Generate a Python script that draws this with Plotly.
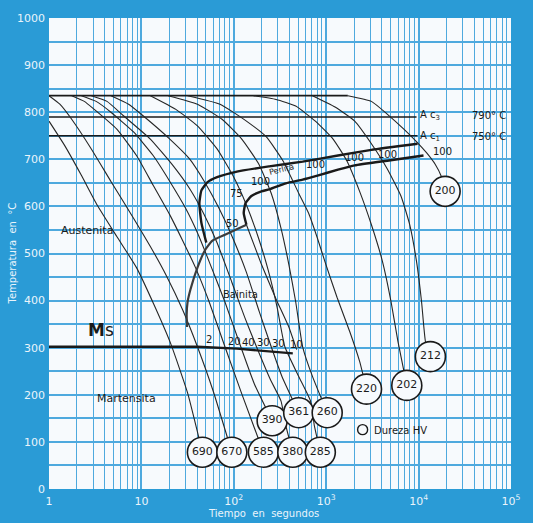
import numpy as np
import plotly.graph_objects as go

# ---- Diagrama TEC: curvas de enfriamiento (tiempo en s, temperatura en °C) ----
T_AUST = 835          # temperatura de austenización
AC3 = 790
AC1 = 750

t_690 = [1, 1.48, 2.24, 3.32, 5.42, 8.85, 13.7, 20.9, 31.6, 45.7]
T_690 = [781, 729, 666, 603, 536, 470, 391, 307, 204, 78]
t_670 = [1, 1.31, 1.76, 2.87, 4.68, 8.22, 12.5, 18.4, 28.0, 40.4, 59.8, 95.2]
T_670 = [835, 817, 785, 722, 653, 575, 515, 455, 380, 302, 208, 78]
t_585 = [1.76, 2.41, 3.09, 5.42, 8.85, 13.4, 20.3, 28.0, 38.5, 54.2, 80.2, 122, 209]
T_585 = [835, 823, 806, 764, 708, 645, 582, 527, 470, 397, 302, 202, 78]
t_390 = [2.24, 3.24, 4.68, 8.22, 13.4, 20.3, 30.1, 40.4, 55.6, 80.2, 119, 167, 260]
T_390 = [835, 823, 800, 758, 708, 653, 596, 544, 477, 397, 302, 223, 145]
t_380 = [2.87, 4.24, 6.44, 12.5, 21.9, 33.2, 48.0, 65.9, 95.2, 131, 176, 248, 324, 366, 435]
T_380 = [835, 823, 792, 743, 687, 638, 582, 523, 439, 365, 302, 233, 187, 134, 78]
t_361 = [4.68, 7.27, 10.5, 20.3, 33.2, 48.0, 69.2, 97.5, 137, 189, 254, 332, 504]
T_361 = [835, 817, 792, 743, 701, 653, 596, 533, 460, 376, 302, 239, 162]
t_285 = [12.5, 23.6, 40.4, 65.9, 97.5, 137, 185, 236, 294, 357, 504, 676, 745, 864]
T_285 = [835, 806, 771, 722, 666, 603, 533, 464, 386, 302, 239, 187, 134, 78]
t_260 = [19.4, 40.4, 74.5, 122, 185, 254, 324, 394, 468, 556, 710, 1025]
T_260 = [835, 817, 785, 743, 691, 628, 554, 477, 397, 302, 239, 162]
t_220 = [31.6, 71.0, 137, 224, 340, 504, 644, 802, 975, 1309, 1800, 2300, 2730]
T_220 = [835, 817, 781, 748, 697, 628, 586, 533, 481, 407, 334, 271, 212]
t_202 = [163, 287, 468, 763, 1187, 1671, 2300, 3085, 4040, 5040, 5980, 7450]
T_202 = [835, 827, 813, 781, 743, 697, 632, 561, 485, 397, 313, 220]
t_212 = [710, 1247, 2035, 3085, 4570, 6440, 8020, 9530, 10770, 11860, 13420]
T_212 = [835, 811, 781, 733, 680, 622, 561, 481, 397, 313, 281]
t_200 = [1714, 3085, 4570, 6920, 9530, 12170, 15170, 17580, 19370]
T_200 = [835, 823, 796, 764, 737, 714, 689, 664, 632]

# Dureza HV al final de cada curva
hv_values = [690, 670, 585, 380, 285, 390, 361, 260, 220, 202, 212, 200]
hv_t = [45.7, 95.2, 209, 435, 864, 260, 504, 1025, 2730, 7450, 13420, 19370]
hv_T = [78, 78, 78, 78, 78, 145, 162, 162, 212, 220, 281, 632]

# Líneas de transformación
t_fs = [50.4, 44.6, 42.4, 44.6, 51.6, 65.9, 108, 242, 556, 1342, 3085, 9750]
T_fs = [523, 565, 607, 634, 651, 662, 674, 685, 695, 708, 720, 733]
t_pf = [137, 128, 134, 155, 199, 242, 366, 556, 822, 1342, 2035, 4570, 11300]
T_pf = [561, 586, 607, 622, 632, 636, 649, 657, 666, 678, 687, 697, 708]
t_bs = [137, 80.2, 58.3, 49.1, 40.4, 34.0, 31.6, 30.9, 31.2]
T_bs = [561, 540, 527, 508, 470, 424, 397, 370, 344]
t_bf = [137, 199, 287, 394, 479]
T_bf = [561, 477, 403, 344, 296]
t_ms = [1, 40.4, 108, 435]
T_ms = [302, 302, 298, 288]

# Porcentajes transformados
pct_text = ["100", "100", "100", "100", "100", "75", "50"]
pct_t = [194, 763, 2035, 4570, 18000, 108, 97.5]
pct_T = [653, 689, 703, 710, 716, 628, 563]
bain_text = ["2", "20", "40", "30", "30", "10"]
bain_t = [54.2, 102, 144, 209, 308, 479]
bain_T = [317, 314, 312, 310, 308, 306]

x_tickvals = [1, 10, 100, 1000, 1e4, 1e5]
x_ticktext = ["1", "10", "10<sup>2</sup>", "10<sup>3</sup>", "10<sup>4</sup>", "10<sup>5</sup>"]
x_minor = [m * 10 ** d for d in range(5) for m in range(2, 10)]

BLUE = "#2a9bd6"
PLOT_BG = "#f7fafd"
GRID = "#4ea9de"
INK = "#1a1a1a"
LIGHT = "#eaf4fb"
FONT = "DejaVu Sans"

fig = go.Figure()

def line(t, T, width=1.2, color=INK, smooth=0.5):
    shape = "spline" if smooth > 0 else "linear"
    spec = dict(color=color, width=width, shape=shape)
    if smooth > 0:
        spec["smoothing"] = smooth
    fig.add_trace(go.Scatter(x=t, y=T, mode="lines", hoverinfo="skip", line=spec))

# línea de austenización y temperaturas críticas
line([1, t_200[0]], [T_AUST, T_AUST], width=1.8, smooth=0)
line([1, 9500], [AC3, AC3], width=1.5, smooth=0)
line([1, 9700], [AC1, AC1], width=1.5, smooth=0)

for t, T in [(t_690, T_690), (t_670, T_670), (t_585, T_585), (t_390, T_390),
             (t_380, T_380), (t_361, T_361), (t_285, T_285), (t_260, T_260),
             (t_220, T_220), (t_202, T_202), (t_212, T_212), (t_200, T_200)]:
    line(t, T, width=1.1, color="#262626", smooth=0.45)

line(t_bf, T_bf, width=1.1, color="#262626", smooth=0.3)
line(t_bs, T_bs, width=2.2, color="#3c3c3c", smooth=0.4)
line(t_fs, T_fs, width=2.4, smooth=0.45)
line(t_pf, T_pf, width=2.4, smooth=0.45)
line(t_ms, T_ms, width=2.4, smooth=0)

# círculos de dureza
fig.add_trace(go.Scatter(
    x=hv_t, y=hv_T, mode="markers+text", hoverinfo="skip",
    text=[str(v) for v in hv_values], textposition="middle center",
    textfont=dict(family=FONT, size=11, color=INK),
    marker=dict(size=30, color=PLOT_BG, line=dict(color=INK, width=1.6))))

# leyenda de dureza
fig.add_trace(go.Scatter(
    x=[2478], y=[126], mode="markers", hoverinfo="skip",
    marker=dict(size=10, color="rgba(0,0,0,0)", line=dict(color=INK, width=1.4))))

ann = []

def label(text, t, T, size=10, anchor="center", angle=0, color=INK):
    ann.append(dict(x=np.log10(t), y=T, xref="x", yref="y", text=text,
                    showarrow=False, xanchor=anchor, yanchor="middle",
                    textangle=angle,
                    font=dict(family=FONT, size=size, color=color)))

for s, t, T in zip(pct_text, pct_t, pct_T):
    label(s, t, T, size=10)
for s, t, T in zip(bain_text, bain_t, bain_T):
    label(s, t, T, size=10)

label("Perlita", 332, 678, size=8, angle=-14)
label("Austenita", 2.6, 548, size=11)
label("Bainita", 119, 414, size=10)
label("Martensita", 6.9, 193, size=11)
label("<b>M</b>s", 3.66, 338, size=17)
label("Dureza HV", 3162, 124, size=10, anchor="left")
label("A c<sub>3</sub>", 13400, AC3 + 2, size=10)
label("A c<sub>1</sub>", 13400, AC1 - 2, size=10)
label("790° C", 58300, AC3 + 2, size=10)
label("750° C", 58300, AC1 - 2, size=10)

ann.append(dict(x=0, y=0.5, xref="paper", yref="paper", xshift=-37,
                text="Temperatura\u00a0\u00a0en\u00a0\u00a0°C", textangle=-90,
                showarrow=False, xanchor="center", yanchor="middle",
                font=dict(family=FONT, size=10, color=LIGHT)))
ann.append(dict(x=0.464, y=0, xref="paper", yref="paper", yshift=-24,
                text="Tiempo\u00a0\u00a0en\u00a0\u00a0segundos",
                showarrow=False, xanchor="center", yanchor="middle",
                font=dict(family=FONT, size=10, color=LIGHT)))

fig.update_layout(
    width=533, height=523,
    margin=dict(l=49, r=14, t=13, b=34),
    paper_bgcolor=BLUE, plot_bgcolor=PLOT_BG,
    showlegend=False, annotations=ann,
    xaxis=dict(type="log", range=[0, 5], tickvals=x_tickvals, ticktext=x_ticktext,
               showgrid=True, gridcolor=GRID, gridwidth=2, zeroline=False,
               showline=False, ticks="", fixedrange=True, ticklabelstandoff=4,
               tickfont=dict(family=FONT, size=11, color=LIGHT),
               minor=dict(tickvals=x_minor, showgrid=True, gridcolor=GRID,
                          gridwidth=1.2, ticks="")),
    yaxis=dict(range=[0, 1000], tick0=0, dtick=100,
               showgrid=True, gridcolor=GRID, gridwidth=1.5, zeroline=False,
               showline=False, ticks="", fixedrange=True, ticklabelstandoff=3,
               tickfont=dict(family=FONT, size=11, color=LIGHT),
               minor=dict(dtick=50, showgrid=True, gridcolor=GRID,
                          gridwidth=1.5, ticks="")),
)

fig.write_html("out.html")
